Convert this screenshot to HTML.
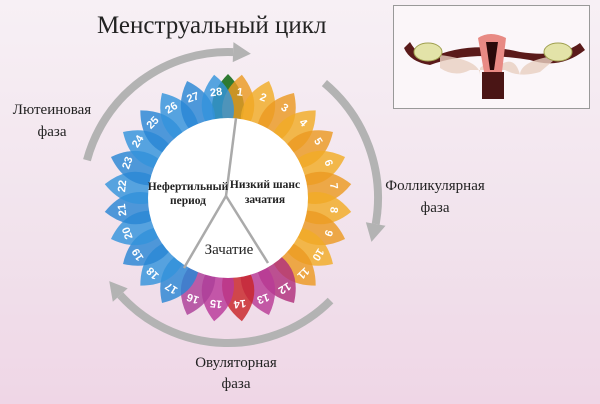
<!DOCTYPE html>
<html><head><meta charset="utf-8"><style>
html,body{margin:0;padding:0;}
body{width:600px;height:404px;overflow:hidden;background:linear-gradient(180deg,#f7f0f5 0%,#f1e2ec 60%,#efd6e6 100%);font-family:"Liberation Serif",serif;}
</style></head><body>
<svg id="s" width="600" height="404" xmlns="http://www.w3.org/2000/svg" style="position:absolute;left:0;top:0">
<text x="97" y="33" font-family="Liberation Serif, serif" font-size="25" fill="#222">Менструальный цикл</text>
<rect x="393.5" y="5.5" width="196" height="103" fill="#fbf6f9" stroke="#999" stroke-width="1"/>
<g>
<path d="M430 58 Q470 40 520 52 Q560 58 580 43 L585 50 Q560 70 530 60 Q470 50 430 65 Q410 62 404 48 L410 42 Q418 56 430 58Z" fill="#5a1a1a"/>
<path d="M440 55 Q480 60 480 75 L480 68 Q495 55 500 65 Q515 55 520 75 Q520 60 560 55 L540 72 Q520 78 505 70 L470 70 Q455 78 440 68Z" fill="#e8cfc0" opacity="0.8"/>
<ellipse cx="428" cy="52" rx="14" ry="9" fill="#e3e3a8" stroke="#a0a050"/>
<ellipse cx="558" cy="52" rx="14" ry="9" fill="#e3e3a8" stroke="#a0a050"/>
<path d="M478 38 Q490 30 506 38 L502 72 L484 72Z" fill="#e88a84"/>
<path d="M486 42 L498 42 L494 70 L490 70Z" fill="#2a0a0a"/>
<rect x="482" y="72" width="22" height="27" fill="#4a1515"/>
</g>
<g id="arcs" fill="none" stroke="#b3b3b3" stroke-width="8" stroke-linecap="butt"></g>
<g id="petals"></g>
<circle cx="228" cy="198" r="80" fill="#fff"/>
<g stroke="#aaa" stroke-width="2.5" fill="none">
<line x1="226" y1="196" x2="236" y2="118"/>
<line x1="226" y1="196" x2="184" y2="268"/>
<line x1="226" y1="196" x2="268" y2="263"/>
</g>
<g font-family="Liberation Serif, serif" font-weight="bold" font-size="11.5" fill="#222" text-anchor="middle">
<text x="188" y="190">Нефертильный</text>
<text x="188" y="204">период</text>
<text x="265" y="188">Низкий шанс</text>
<text x="265" y="203">зачатия</text>
</g>
<text x="229" y="254" text-anchor="middle" font-family="Liberation Serif, serif" font-size="15" fill="#222">Зачатие</text>
<g font-family="Liberation Serif, serif" font-size="15" fill="#222" text-anchor="middle">
<text x="52" y="114">Лютеиновая</text>
<text x="52" y="136">фаза</text>
<text x="435" y="190">Фолликулярная</text>
<text x="435" y="212">фаза</text>
<text x="236" y="367">Овуляторная</text>
<text x="236" y="388">фаза</text>
</g>
</svg>
<script>
var NS="http://www.w3.org/2000/svg",cx=228,cy=198;
function el(t,a,p){var e=document.createElementNS(NS,t);for(var k in a)e.setAttribute(k,a[k]);p.appendChild(e);return e;}
function pt(r,deg){var a=deg*Math.PI/180;return [cx+r*Math.sin(a),cy-r*Math.cos(a)];}
var arcs=document.getElementById('arcs');
function arc(r,a1,a2){var p1=pt(r,a1),p2=pt(r,a2);var large=Math.abs(a2-a1)>180?1:0,sw=a2>a1?1:0;
el('path',{d:'M'+p1[0]+' '+p1[1]+' A'+r+' '+r+' 0 '+large+' '+sw+' '+p2[0]+' '+p2[1]},arcs);
var dir=a2>a1?1:-1;var tip=pt(r,a2+dir*7),b1=pt(r-10,a2),b2=pt(r+10,a2);
el('path',{d:'M'+tip[0]+' '+tip[1]+' L'+b1[0]+' '+b1[1]+' L'+b2[0]+' '+b2[1]+'Z',fill:'#b3b3b3',stroke:'none'},arcs);}
arc(146,-75,2);arc(150,40,100);arc(145,135,228);
var g=document.getElementById('petals');
var cols={12:'#b02f7c',13:'#b83a96',14:'#c82428',15:'#b8389a',16:'#ac3f98'};
var shape='M0,-55 Q32,-92 0,-124 Q-32,-92 0,-55Z';
el('path',{d:shape,fill:'#2f7a32',transform:'translate('+cx+','+cy+')'},g);
for(var d=1;d<=28;d++){var ang=(d-0.5)*360/28;var c=cols[d]||(d<=11?(d%2?'#ec9a22':'#f2ac26'):(d%2?'#2a86d4':'#3394dc'));
el('path',{d:shape,fill:c,'fill-opacity':'0.82',transform:'translate('+cx+','+cy+') rotate('+ang+')'},g);}
for(var d=1;d<=28;d++){var ang=(d-0.5)*360/28;var p=pt(107,ang);
var t=el('text',{x:0,y:4,'text-anchor':'middle','font-family':'Liberation Sans, sans-serif','font-size':'11','font-weight':'bold',fill:'#fff',transform:'translate('+p[0]+','+p[1]+') rotate('+ang+')'},g);t.textContent=d;}
</script>
</body></html>
